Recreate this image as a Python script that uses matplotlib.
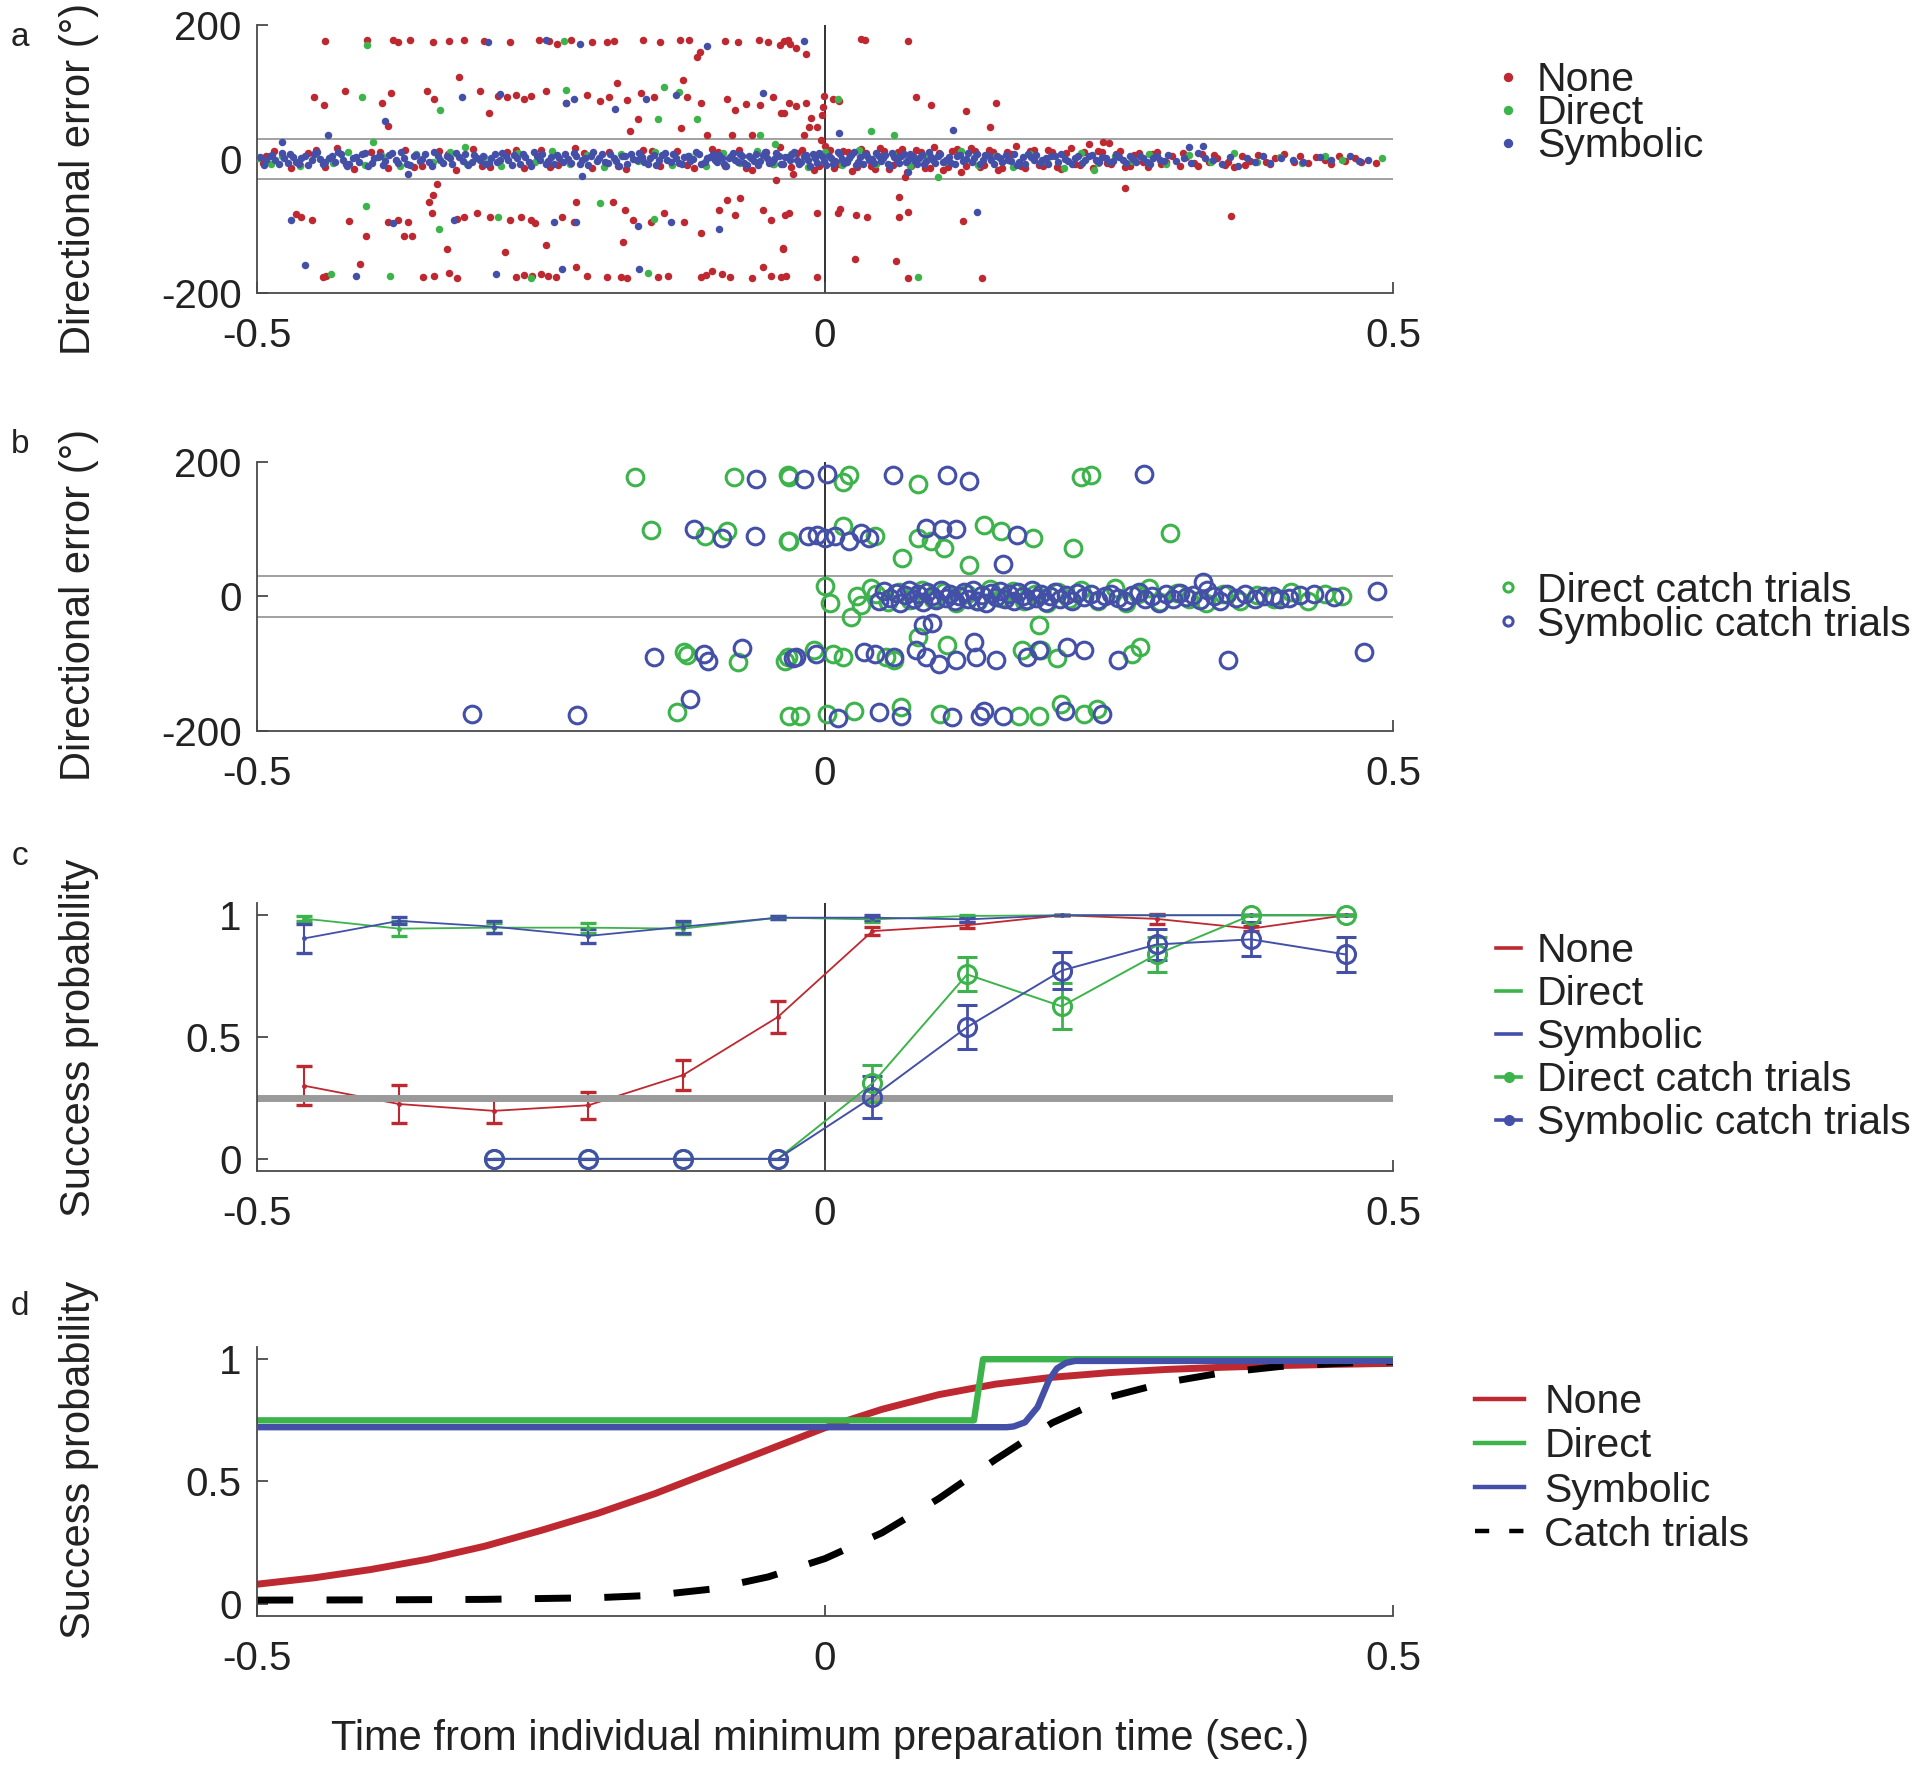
import matplotlib
matplotlib.use("Agg")
import matplotlib.pyplot as plt
from matplotlib.lines import Line2D

plt.rcParams['font.family'] = ['Liberation Sans', 'DejaVu Sans']

RED = '#BE2830'
GREEN = '#3CB44B'
BLUE = '#4450A8'
GRAY = '#9A9A9A'
AXC = '#4A4A4A'
TXT = '#222222'

# ---------------- panel a: directional error, all trials (x = time, y = error in deg)
none_band = [
    (-0.495, -6), (-0.485, 12), (-0.470, -14), (-0.455, 9), (-0.440, -12), (-0.430, 16), (-0.415, -15), (-0.400, 10),
    (-0.385, -13), (-0.370, 14), (-0.355, -10), (-0.340, 12), (-0.325, -16), (-0.310, 15), (-0.295, -12), (-0.280, 11),
    (-0.265, -14), (-0.250, 13), (-0.235, -9), (-0.220, 16), (-0.205, -13), (-0.190, 10), (-0.175, -15), (-0.160, 14),
    (-0.145, -11), (-0.130, 12), (-0.115, -14), (-0.100, 15), (-0.088, -10), (-0.076, 13), (-0.064, -16), (-0.052, 11),
    (-0.040, 18), (-0.030, -12), (-0.020, 14), (-0.010, -17), (0.000, 20), (0.008, -14), (0.016, 12), (0.024, -18),
    (0.032, 15), (0.040, -11), (0.048, 17), (0.056, -15), (0.064, 10), (0.072, -20), (0.080, 14), (0.088, -13),
    (0.096, 18), (0.104, -16), (0.112, 12), (0.120, -19), (0.128, 16), (0.136, -12), (0.144, 14), (0.152, -17),
    (0.160, 11), (0.168, 20), (0.176, -14), (0.184, 13), (0.192, -11), (0.200, 10), (0.208, -15), (0.216, 17),
    (0.224, -9), (0.232, 22), (0.240, 12), (0.248, -6), (0.256, 8), (0.264, -12), (0.272, 6), (0.280, -5),
    (0.288, 7), (0.296, -8), (0.305, 4), (0.312, -10), (0.318, 3), (0.325, -6), (0.332, 8), (0.338, -4),
    (0.345, 2), (0.352, -9), (0.360, -12), (0.367, 5), (0.374, -3), (0.381, 6), (0.388, -5), (0.396, 2),
    (0.404, 7), (0.413, -4), (0.425, -6), (0.432, 3), (0.440, -2), (0.452, 4), (0.458, -3), (0.466, 1),
    (-0.004, 28), (0.070, -27), (0.245, 25), (0.250, 24),
    (-0.492, 5), (-0.462, -9), (-0.448, 13), (-0.422, -8), (-0.392, 11), (-0.362, -12), (-0.332, 8), (-0.302, -10),
    (-0.272, 14), (-0.242, -12), (-0.212, 9), (-0.182, -11), (-0.152, 12), (-0.122, -9), (-0.094, 11), (-0.070, -13),
    (-0.046, -8), (-0.025, 9), (-0.005, -10), (0.004, 13), (0.012, -8), (0.020, 10), (0.028, -12), (0.036, 9),
    (0.044, -15), (0.052, 12), (0.060, -9), (0.068, 15), (0.076, -10), (0.084, 11), (0.092, -14), (0.100, 9),
    (0.108, -12), (0.116, 15), (0.124, -10), (0.132, 12), (0.140, -9), (0.148, 10), (0.156, -13), (0.164, 8),
    (0.172, -11), (0.180, 12), (0.188, -9), (0.196, 13), (0.204, -12), (0.212, 9), (0.220, -8), (0.228, 11),
    (0.236, -13), (0.244, 10), (0.252, -8), (0.260, 12), (0.268, -10), (0.276, 9), (0.284, -12), (0.292, 11),
    (0.300, -5), (0.315, 9), (0.328, -11), (0.342, 6), (0.355, -5), (0.370, -9), (0.392, -8), (0.418, 5),
    (0.445, -7), (0.472, -4), (0.485, -6),
]
none_out = [
    (-0.440, 176), (-0.403, 178), (-0.380, 177), (-0.376, 175), (-0.345, 174), (-0.331, 176), (-0.318, 178),
    (-0.277, 175), (-0.252, 177), (-0.243, 176), (-0.236, 172), (-0.224, 177), (-0.205, 175), (-0.192, 174),
    (-0.186, 176), (-0.128, 178), (-0.120, 177), (-0.110, 160), (-0.088, 176), (-0.077, 174), (-0.058, 177),
    (-0.050, 175), (-0.040, 170), (-0.033, 177), (-0.036, 176), (-0.031, 171), (-0.026, 165), (-0.017, 157),
    (0.032, 179), (0.035, 178), (0.073, 176), (-0.113, 152), (-0.365, 178), (-0.300, 176), (-0.160, 177),
    (-0.145, 175),
    (-0.450, 92), (-0.441, 80), (-0.423, 102), (-0.390, 83), (-0.382, 98), (-0.350, 102), (-0.344, 89),
    (-0.322, 122), (-0.304, 102), (-0.296, 68), (-0.288, 94), (-0.280, 92), (-0.272, 96), (-0.265, 90),
    (-0.259, 94), (-0.246, 102), (-0.228, 84), (-0.210, 95), (-0.198, 86), (-0.190, 92), (-0.183, 114),
    (-0.174, 88), (-0.162, 99), (-0.151, 93), (-0.125, 118), (-0.122, 92), (-0.109, 84), (-0.086, 89),
    (-0.079, 73), (-0.070, 82), (-0.057, 80), (-0.046, 93), (-0.039, 68), (-0.032, 84),
    (-0.385, 49), (-0.165, 60), (-0.172, 41), (-0.127, 46), (-0.104, 36), (-0.082, 36), (-0.064, 36),
    (-0.036, 68), (-0.026, 79), (-0.017, 83), (-0.012, 61), (-0.014, 48), (-0.007, 48), (-0.003, 66),
    (-0.002, 78), (-0.001, 94), (0.007, 89), (0.012, 86), (0.080, 92), (0.093, 81), (0.124, 71),
    (0.150, 83), (0.145, 47), (-0.019, 36),
    (-0.466, -82), (-0.461, -86), (-0.452, -91), (-0.419, -92), (-0.404, -115), (-0.385, -94), (-0.376, -91),
    (-0.367, -94), (-0.371, -115), (-0.364, -115), (-0.349, -64), (-0.345, -54), (-0.342, -37), (-0.346, -81),
    (-0.333, -134), (-0.324, -89), (-0.318, -86), (-0.306, -81), (-0.295, -86), (-0.282, -139), (-0.277, -91),
    (-0.268, -86), (-0.259, -91), (-0.255, -96), (-0.246, -129), (-0.232, -86), (-0.219, -64), (-0.221, -94),
    (-0.187, -64), (-0.176, -76), (-0.178, -124), (-0.169, -91), (-0.153, -94), (-0.142, -81), (-0.124, -94),
    (-0.109, -111), (-0.093, -76), (-0.086, -61), (-0.079, -84), (-0.075, -59), (-0.055, -76), (-0.048, -91),
    (-0.037, -134), (-0.032, -81), (-0.028, -22), (-0.043, -32),
    (-0.035, -84), (-0.007, -80), (0.011, -81), (0.013, -74), (0.027, -84), (0.037, -86), (0.065, -86),
    (0.073, -79), (0.065, -57), (0.121, -92), (0.264, -43), (0.357, -85), (-0.037, -133), (0.026, -149),
    (0.062, -152),
    (-0.442, -176), (-0.439, -175), (-0.409, -157), (-0.354, -176), (-0.344, -175), (-0.331, -170),
    (-0.324, -178), (-0.272, -176), (-0.265, -173), (-0.258, -175), (-0.250, -172), (-0.244, -174),
    (-0.237, -176), (-0.219, -161), (-0.210, -175), (-0.192, -176), (-0.180, -176), (-0.174, -178),
    (-0.147, -176), (-0.138, -175), (-0.109, -176), (-0.105, -173), (-0.100, -168), (-0.091, -172),
    (-0.084, -176), (-0.064, -178), (-0.055, -161), (-0.048, -175), (-0.039, -176), (-0.034, -175),
    (-0.007, -176), (0.073, -177), (0.138, -177),
]
direct_band = [
    (-0.499, 2), (-0.488, -7), (-0.478, 5), (-0.462, -10), (-0.448, 8), (-0.433, -6), (-0.420, 11), (-0.405, -9),
    (-0.390, 4), (-0.374, -11), (-0.360, 7), (-0.345, -4), (-0.330, 10), (-0.315, -8), (-0.300, 3), (-0.285, -10),
    (-0.270, 9), (-0.255, -5), (-0.240, 12), (-0.225, -7), (-0.210, 6), (-0.195, -12), (-0.180, 8), (-0.165, -3),
    (-0.150, 11), (-0.135, -9), (-0.120, 5), (-0.105, -11), (-0.090, 9), (-0.075, -6), (-0.060, 12), (-0.045, -8),
    (-0.030, 7), (-0.015, -12), (0.000, 10), (0.015, -9), (0.030, 13), (0.045, -7), (0.060, 8), (0.075, -11),
    (0.090, 6), (0.105, -5), (0.120, 12), (0.135, -9), (0.150, 4), (0.165, -12), (0.180, 7), (0.195, -4),
    (0.210, -13), (0.225, 9), (0.240, -6), (0.255, 5), (0.270, -3), (0.285, 8), (0.300, -7), (0.320, 6),
    (0.340, -5), (0.360, 9), (0.380, -4), (0.400, 3), (0.420, -6), (0.440, 5), (0.455, -2), (0.490, 2),
]
direct_out = [
    (-0.435, -172), (-0.383, -175), (-0.259, -178), (-0.156, -170), (0.082, -176), (-0.404, -70), (-0.340, -104),
    (-0.288, -86), (-0.198, -66), (-0.151, -89), (-0.408, 92), (-0.339, 73), (-0.228, 103), (-0.142, 107),
    (-0.129, 100), (-0.147, 60), (-0.113, 59), (-0.057, 36), (0.011, 89), (0.040, 42), (0.061, 36),
    (-0.403, 170), (-0.230, 176), (-0.398, 26), (-0.317, 18), (-0.044, 22), (0.099, -27), (0.237, -17),
]
symbolic_band = [
    (-0.497, 3), (-0.492, -2), (-0.487, 6), (-0.481, -7), (-0.476, 1), (-0.471, 8), (-0.466, -4), (-0.461, 2),
    (-0.455, -9), (-0.450, 7), (-0.445, 0), (-0.440, -5), (-0.434, 4), (-0.429, 10), (-0.424, -2), (-0.419, -7),
    (-0.413, 3), (-0.408, 7), (-0.402, -11), (-0.397, 1), (-0.392, 5), (-0.387, -3), (-0.381, 9), (-0.376, -6),
    (-0.371, 2), (-0.365, -9), (-0.360, 6), (-0.355, 0), (-0.349, -4), (-0.344, 11), (-0.339, -1), (-0.333, 4),
    (-0.328, -8), (-0.322, 3), (-0.317, 7), (-0.311, -5), (-0.306, 1),
    (-0.301, 4), (-0.296, -6), (-0.291, 8), (-0.286, -2), (-0.281, 5), (-0.276, -9), (-0.271, 1), (-0.266, 7),
    (-0.261, -4), (-0.256, 10), (-0.251, -1), (-0.246, -7), (-0.241, 3), (-0.236, 6), (-0.231, -5), (-0.226, 0),
    (-0.221, 9), (-0.216, -8), (-0.211, 2), (-0.206, 5), (-0.201, -3), (-0.196, 8), (-0.191, -6), (-0.186, 1),
    (-0.181, -10), (-0.176, 4), (-0.171, 7), (-0.166, -2), (-0.161, 3), (-0.156, -7), (-0.151, 6), (-0.146, -1),
    (-0.141, 9), (-0.136, -4), (-0.131, 2), (-0.126, -8), (-0.121, 5), (-0.116, 0), (-0.111, 7), (-0.106, -5),
    (-0.101, 3),
    (-0.097, -2), (-0.093, 6), (-0.089, -7), (-0.085, 1), (-0.081, 9), (-0.077, -4), (-0.073, 4), (-0.069, -9),
    (-0.065, 2), (-0.061, 7), (-0.057, -3), (-0.053, 10), (-0.049, -6), (-0.045, 0), (-0.041, 5), (-0.037, -8),
    (-0.033, 3), (-0.029, 8), (-0.025, -1), (-0.021, -5), (-0.017, 6), (-0.013, -10), (-0.009, 2), (-0.005, 9),
    (-0.001, -3), (0.003, 4), (0.007, -7), (0.011, 11), (0.015, 0), (0.019, -4), (0.023, 6), (0.027, -9),
    (0.031, 3), (0.035, 8), (0.039, -2), (0.043, -6), (0.047, 5), (0.051, 1), (0.055, -8), (0.059, 9),
    (0.063, -1), (0.067, 4), (0.071, -5), (0.075, 7), (0.079, -3), (0.083, 2), (0.087, -7), (0.091, 10),
    (0.095, -2), (0.099, 5),
    (0.104, -4), (0.109, 3), (0.114, -8), (0.119, 6), (0.124, 0), (0.129, -5), (0.134, 8), (0.139, -2),
    (0.144, 4), (0.149, -7), (0.154, 1), (0.159, 6), (0.164, -3), (0.169, -9), (0.174, 3), (0.179, 7),
    (0.184, -1), (0.189, -6), (0.194, 2), (0.199, 5), (0.205, -4), (0.211, 0), (0.217, -7), (0.223, 4),
    (0.229, -2), (0.235, 6), (0.241, -5), (0.247, 1), (0.253, -3), (0.259, 3), (0.265, -6), (0.271, 0),
    (0.277, 4), (0.283, -4), (0.289, 2), (0.295, -1),
    (0.302, 6), (0.309, -3), (0.316, 2), (0.322, -6), (0.328, 9), (0.334, 1), (0.341, -2), (0.349, -7),
    (0.356, 3), (0.363, -10), (0.371, 2), (0.378, -4), (0.385, 4), (0.392, -6), (0.401, 1), (0.412, -2),
    (0.421, -4), (0.436, 3), (0.445, -1), (0.462, 4), (0.470, -3), (0.478, -2),
    (-0.494, -9), (-0.489, 5), (-0.484, -1), (-0.478, 9), (-0.473, -6), (-0.468, 3), (-0.463, -8), (-0.458, 5),
    (-0.452, -2), (-0.447, 10), (-0.442, -7), (-0.437, 2), (-0.431, -5), (-0.426, 7), (-0.421, -10), (-0.416, 1),
    (-0.410, -4), (-0.405, 9), (-0.399, -6), (-0.394, 3), (-0.389, -9), (-0.384, 6), (-0.378, -1), (-0.373, 10),
    (-0.368, -7), (-0.362, 4), (-0.357, -3), (-0.352, 8), (-0.346, -10), (-0.341, 5), (-0.336, -6), (-0.330, 1),
    (-0.325, 9), (-0.319, -3), (-0.314, -9), (-0.309, 6), (-0.304, -2),
    (-0.299, -8), (-0.294, 2), (-0.289, -4), (-0.284, 9), (-0.279, -1), (-0.274, 6), (-0.269, -7), (-0.264, 3),
    (-0.259, -10), (-0.254, 5), (-0.249, 8), (-0.244, -3), (-0.239, -8), (-0.234, 1), (-0.229, 7), (-0.224, -6),
    (-0.219, 4), (-0.214, -1), (-0.209, -9), (-0.204, 10), (-0.199, 2), (-0.194, -5), (-0.189, 7), (-0.184, -3),
    (-0.179, 5), (-0.174, -8), (-0.169, 0), (-0.164, 9), (-0.159, -5), (-0.154, 2), (-0.149, -9), (-0.144, 6),
    (-0.139, -2), (-0.134, 8), (-0.129, -6), (-0.124, 3), (-0.119, -3), (-0.114, 10), (-0.109, -8), (-0.104, 1),
    (-0.099, 7), (-0.095, -5), (-0.091, 2), (-0.087, -10), (-0.083, 5), (-0.079, -1), (-0.075, 8), (-0.071, -6),
    (-0.067, 4), (-0.063, -3), (-0.059, -9), (-0.055, 6), (-0.051, 1), (-0.047, -4), (-0.043, 9), (-0.039, -7),
    (-0.035, 3), (-0.031, -2), (-0.027, 10), (-0.023, -8), (-0.019, 4), (-0.015, -1), (-0.011, 7), (-0.007, -6),
    (-0.003, 5), (0.001, -9), (0.005, 1), (0.009, -3), (0.013, 8), (0.017, -6), (0.021, 2), (0.025, 10),
    (0.029, -4), (0.033, -8), (0.037, 5), (0.041, 0), (0.045, 9), (0.049, -3), (0.053, 6), (0.057, -10),
    (0.061, 3), (0.065, -6), (0.069, 8), (0.073, -1), (0.077, 4), (0.081, -8), (0.085, 6), (0.089, -3),
    (0.093, 3), (0.097, -6),
    (0.101, 8), (0.106, -1), (0.111, -6), (0.116, 5), (0.121, -3), (0.126, 9), (0.131, 2), (0.136, -7),
    (0.141, 6), (0.146, -2), (0.151, 4), (0.156, -5), (0.161, -1), (0.166, 8), (0.171, -4), (0.176, -7),
    (0.181, 3), (0.186, 6), (0.191, -2), (0.196, -8), (0.202, 4), (0.208, 7), (0.214, -3), (0.220, 2),
    (0.226, -6), (0.232, 5), (0.238, -1), (0.244, 3), (0.250, -5), (0.256, 6), (0.262, -2), (0.268, 4),
    (0.274, -4), (0.280, 1), (0.286, -7), (0.292, 5), (0.298, -3),
]
symbolic_out = [
    (-0.297, 174), (-0.246, 177), (-0.216, 171), (-0.104, 168), (-0.320, 92), (-0.286, 97), (-0.228, 83),
    (-0.221, 90), (-0.185, 74), (-0.158, 89), (-0.131, 95), (-0.055, 98), (-0.387, 56), (-0.438, 36),
    (-0.478, 25), (-0.470, -91), (-0.380, -95), (-0.327, -91), (-0.239, -94), (-0.219, -94), (-0.165, -100),
    (-0.136, -94), (-0.093, -104), (-0.458, -159), (-0.413, -174), (-0.290, -172), (-0.232, -165),
    (-0.164, -164), (-0.367, -22), (-0.214, -26), (-0.019, 176), (0.113, 43), (0.012, 38), (0.134, -79),
    (0.073, -20), (0.320, 18), (0.333, 20),
]

# ---------------- panel b: directional error, catch trials
direct_catch_pts = [
    (-0.167, 177), (-0.080, 177), (-0.032, 177), (-0.153, 99), (-0.106, 90), (-0.086, 97), (-0.032, 82),
    (-0.124, -82), (-0.122, -87), (-0.077, -97), (-0.035, -96), (-0.130, -172), (-0.032, -177),
    (-0.033, 180), (0.021, 180), (0.016, 170), (0.082, 167), (0.225, 177), (0.234, 180),
    (-0.033, 82), (0.016, 105), (0.044, 90), (0.082, 87), (0.093, 82), (0.105, 72), (0.140, 107),
    (0.155, 97), (0.183, 87), (0.218, 72), (0.304, 95), (0.068, 57), (0.127, 47), (0.188, -42),
    (-0.033, -90), (-0.010, -80), (0.007, -85), (0.016, -90), (0.054, -90), (0.061, -95), (0.082, -60),
    (0.107, -72), (0.173, -80), (0.204, -92), (0.270, -85), (0.277, -75), (0.190, -80),
    (-0.022, -177), (0.002, -175), (0.025, -170), (0.067, -165), (0.101, -175), (0.171, -177),
    (0.188, -177), (0.208, -160), (0.228, -175), (0.239, -167),
    (0.000, 15), (0.004, -10), (0.023, -30), (0.028, 0), (0.032, -12), (0.040, 12), (0.045, 3), (0.055, -8),
    (0.065, 6), (0.075, -5), (0.085, 10), (0.095, -3), (0.105, 7), (0.115, -9), (0.125, 4), (0.135, -6),
    (0.145, 11), (0.155, -2), (0.165, 8), (0.175, -7), (0.185, 3), (0.195, -10), (0.205, 6), (0.215, -4),
    (0.225, 9), (0.240, -6), (0.255, 12), (0.265, -10), (0.275, 3), (0.285, 12), (0.295, -8), (0.310, 5),
    (0.320, -3), (0.335, -9), (0.350, 4), (0.365, -6), (0.380, 2), (0.395, -4), (0.410, 6), (0.425, -7),
    (0.440, 3), (0.455, 0),
]
symbolic_catch_pts = [
    (-0.061, 175), (-0.115, 101), (-0.091, 87), (-0.062, 90), (-0.151, -90), (-0.107, -85), (-0.103, -96),
    (-0.073, -76), (-0.028, -92), (-0.119, -152), (-0.311, -174), (-0.218, -176),
    (-0.019, 174), (0.002, 182), (0.060, 180), (0.107, 181), (0.127, 172), (0.281, 182),
    (-0.015, 90), (-0.007, 92), (0.000, 87), (0.009, 90), (0.021, 82), (0.032, 95), (0.039, 87),
    (0.089, 102), (0.103, 100), (0.115, 101), (0.169, 92), (0.157, 49), (0.086, -42), (0.094, -39),
    (-0.026, -90), (-0.008, -85), (0.034, -82), (0.044, -85), (0.061, -90), (0.080, -80), (0.089, -90),
    (0.100, -100), (0.115, -95), (0.131, -67), (0.133, -90), (0.150, -95), (0.178, -90), (0.188, -80),
    (0.213, -75), (0.228, -80), (0.258, -95), (0.355, -95), (0.474, -82),
    (0.011, -180), (0.047, -172), (0.067, -177), (0.112, -179), (0.136, -177), (0.140, -170), (0.157, -177),
    (0.211, -170), (0.244, -175),
    (0.047, -6), (0.052, 8), (0.057, -2), (0.062, 5), (0.066, -9), (0.070, 2), (0.074, 10), (0.078, -4),
    (0.082, 3), (0.086, -8), (0.090, 6), (0.094, 0), (0.098, -5), (0.102, 9), (0.106, -2), (0.110, 4),
    (0.114, -7), (0.118, 1), (0.122, 7), (0.126, -3), (0.130, 10), (0.134, -6), (0.138, 2), (0.142, -9),
    (0.146, 5), (0.150, -1), (0.154, 8), (0.158, -4), (0.162, 3), (0.166, -7), (0.170, 6), (0.174, 0),
    (0.178, -5), (0.182, 9), (0.186, -2), (0.190, 4), (0.194, -8), (0.198, 1), (0.202, 6), (0.207, -3),
    (0.212, 2), (0.217, -6), (0.222, 5), (0.228, -1), (0.234, 3), (0.240, -5), (0.246, 1), (0.252, 4),
    (0.258, -2), (0.264, -7), (0.270, 2), (0.276, 6), (0.282, -3), (0.288, 1), (0.294, -10), (0.300, 3),
    (0.306, -4), (0.312, 5), (0.318, -1), (0.324, 2), (0.330, -5), (0.336, 9), (0.342, 0), (0.348, -6),
    (0.354, 3), (0.362, -2), (0.370, 4), (0.378, -3), (0.386, 0), (0.394, 1), (0.400, -4), (0.408, -2),
    (0.418, 2), (0.430, 3), (0.448, -1), (0.486, 8), (0.333, 22),
]

# ---------------- panel c: binned success probability
bin_x = [-0.4583, -0.375, -0.2917, -0.2083, -0.125, -0.0417, 0.0417, 0.125, 0.2083, 0.2917, 0.375, 0.4583]
none_p = [0.30, 0.225, 0.197, 0.22, 0.344, 0.582, 0.935, 0.959, 1.0, 0.985, 0.945, 1.0]
none_err = [0.08, 0.078, 0.05, 0.055, 0.062, 0.067, 0.015, 0.012, 0.0, 0.02, 0.01, 0.0]
direct_p = [0.986, 0.945, 0.949, 0.949, 0.945, 0.99, 0.983, 0.997, 1.0, 1.0, 1.0, 1.0]
direct_err = [0.01, 0.03, 0.02, 0.02, 0.02, 0.005, 0.01, 0.005, 0.0, 0.0, 0.0, 0.0]
symbolic_p = [0.905, 0.977, 0.953, 0.915, 0.953, 0.99, 0.99, 0.983, 1.0, 1.0, 1.0, 1.0]
symbolic_err = [0.06, 0.015, 0.025, 0.03, 0.025, 0.005, 0.01, 0.01, 0.0, 0.0, 0.0, 0.0]
catch_x = [-0.2917, -0.2083, -0.125, -0.0417, 0.0417, 0.125, 0.2083, 0.2917, 0.375, 0.4583]
direct_catch_p = [0, 0, 0, 0, 0.31, 0.757, 0.626, 0.839, 1.0, 1.0]
direct_catch_err = [0, 0, 0, 0, 0.076, 0.07, 0.094, 0.07, 0, 0]
symbolic_catch_p = [0, 0, 0, 0, 0.254, 0.541, 0.773, 0.88, 0.901, 0.839]
symbolic_catch_err = [0, 0, 0, 0, 0.085, 0.09, 0.075, 0.065, 0.07, 0.07]
chance = 0.25

# ---------------- panel d: model curves
none_fit_x = [-0.5, -0.45, -0.4, -0.35, -0.3, -0.25, -0.2, -0.15, -0.1, -0.05, 0.0, 0.05, 0.1, 0.15, 0.2,
              0.25, 0.3, 0.35, 0.4, 0.45, 0.5]
none_fit_y = [0.08, 0.106, 0.14, 0.182, 0.235, 0.30, 0.37, 0.45, 0.54, 0.63, 0.72, 0.795, 0.855, 0.898,
              0.926, 0.945, 0.958, 0.967, 0.974, 0.979, 0.983]
direct_fit_x = [-0.5, 0.131, 0.139, 0.5]
direct_fit_y = [0.75, 0.75, 1.0, 1.0]
symbolic_fit_x = [-0.5, 0.160, 0.166, 0.176, 0.187, 0.197, 0.204, 0.212, 0.220, 0.5]
symbolic_fit_y = [0.722, 0.722, 0.725, 0.742, 0.804, 0.914, 0.962, 0.985, 0.993, 0.993]
catch_fit_x = [-0.5, -0.4, -0.3, -0.2, -0.15, -0.1, -0.05, 0.0, 0.05, 0.1, 0.15, 0.2, 0.25, 0.3, 0.35,
               0.4, 0.45, 0.5]
catch_fit_y = [0.015, 0.016, 0.018, 0.025, 0.035, 0.06, 0.11, 0.185, 0.29, 0.43, 0.59, 0.74, 0.845, 0.905,
               0.945, 0.97, 0.983, 0.99]


def xy(pts):
    return [p[0] for p in pts], [p[1] for p in pts]


def style(ax, ylim, yticks, ylabels):
    ax.set_xlim(-0.5, 0.5)
    ax.set_ylim(*ylim)
    for s in ('top', 'right'):
        ax.spines[s].set_visible(False)
    for s in ('left', 'bottom'):
        ax.spines[s].set_color(AXC)
        ax.spines[s].set_linewidth(1.3)
    ax.set_xticks([-0.5, 0, 0.5])
    ax.set_xticklabels(['-0.5', '0', '0.5'])
    ax.set_yticks(yticks)
    ax.set_yticklabels(ylabels)
    ax.tick_params(direction='in', length=8, width=1.3, color=AXC, labelsize=29, labelcolor=TXT)
    ax.tick_params(axis='x', pad=17)
    ax.tick_params(axis='y', pad=11)


fig = plt.figure(figsize=(19.2, 17.7), dpi=100)
L, W = 0.1339, 0.5917

# ---- a
ax = fig.add_axes([L, 0.8345, W, 0.1514])
style(ax, (-200, 200), [-200, 0, 200], ['-200', '0', '200'])
for yy in (30, -30):
    ax.axhline(yy, color=GRAY, lw=1.3, zorder=1)
ax.axvline(0, color='#222222', lw=1.3, zorder=1)
dot = dict(marker='o', ms=5.4, mec='none', ls='none', zorder=3)
x, y = xy(none_out + none_band)
ax.plot(x, y, color=RED, label='None', **dot)
x, y = xy(direct_out + direct_band)
ax.plot(x, y, color=GREEN, label='Direct', **dot)
x, y = xy(symbolic_out + symbolic_band)
ax.plot(x, y, color=BLUE, label='Symbolic', **dot)
h, l = ax.get_legend_handles_labels()
fig.legend(h, l, loc='upper left', bbox_to_anchor=(0.777, 0.9655), frameon=False, fontsize=29.5,
           handlelength=0.8, handletextpad=0.3, labelspacing=-0.12, borderpad=0, borderaxespad=0,
           markerscale=1.25, labelcolor=TXT)

# ---- b
ax = fig.add_axes([L, 0.587, W, 0.152])
style(ax, (-200, 200), [-200, 0, 200], ['-200', '0', '200'])
for yy in (30, -30):
    ax.axhline(yy, color=GRAY, lw=1.3, zorder=1)
ax.axvline(0, color='#222222', lw=1.3, zorder=1)
circ = dict(marker='o', ms=12, mfc='none', mew=2.2, ls='none', zorder=3)
x, y = xy(direct_catch_pts)
ax.plot(x, y, color=GREEN, mec=GREEN, label='Direct catch trials', **circ)
x, y = xy(symbolic_catch_pts)
ax.plot(x, y, color=BLUE, mec=BLUE, label='Symbolic catch trials', **circ)
h, l = ax.get_legend_handles_labels()
fig.legend(h, l, loc='upper left', bbox_to_anchor=(0.777, 0.677), frameon=False, fontsize=29.5,
           handlelength=0.8, handletextpad=0.3, labelspacing=-0.1, borderpad=0, borderaxespad=0,
           markerscale=0.55, labelcolor=TXT)

# ---- c
ax = fig.add_axes([L, 0.3384, W, 0.1514])
style(ax, (-0.05, 1.05), [0, 0.5, 1], ['0', '0.5', '1'])
ax.axvline(0, color='#222222', lw=1.3, zorder=1)
eb = dict(lw=1.3, marker='.', ms=5, capsize=6, capthick=2.4, elinewidth=1.5, zorder=2)
ax.errorbar(bin_x, none_p, yerr=none_err, color=RED, **eb)
ax.errorbar(bin_x, direct_p, yerr=direct_err, color=GREEN, **eb)
ax.errorbar(bin_x, symbolic_p, yerr=symbolic_err, color=BLUE, **eb)
ax.axhline(chance, color=GRAY, lw=5, zorder=2.5)
ebc = dict(lw=1.4, marker='o', ms=13, mfc='none', mew=2.2, capsize=7, capthick=2.6, elinewidth=2.0, zorder=3)
ax.errorbar(catch_x, direct_catch_p, yerr=direct_catch_err, color=GREEN, **ebc)
ax.errorbar(catch_x, symbolic_catch_p, yerr=symbolic_catch_err, color=BLUE, **ebc)
hc = [Line2D([], [], color=RED, lw=2.6), Line2D([], [], color=GREEN, lw=2.6), Line2D([], [], color=BLUE, lw=2.6),
      Line2D([], [], color=GREEN, lw=2.6, marker='o', ms=7), Line2D([], [], color=BLUE, lw=2.6, marker='o', ms=7)]
fig.legend(hc, ['None', 'Direct', 'Symbolic', 'Direct catch trials', 'Symbolic catch trials'],
           loc='upper left', bbox_to_anchor=(0.779, 0.4733), frameon=False, fontsize=29.5,
           handlelength=0.63, handletextpad=0.37, labelspacing=0.12, borderpad=0, borderaxespad=0,
           labelcolor=TXT)

# ---- d
ax = fig.add_axes([L, 0.087, W, 0.152])
style(ax, (-0.05, 1.05), [0, 0.5, 1], ['0', '0.5', '1'])
ax.plot(none_fit_x, none_fit_y, color=RED, lw=5, solid_capstyle='butt', zorder=2)
ax.plot(catch_fit_x, catch_fit_y, color='black', lw=5, dashes=(5.2, 4.8), zorder=2.2)
ax.plot(direct_fit_x, direct_fit_y, color=GREEN, lw=4.6, zorder=2.4)
ax.plot(symbolic_fit_x, symbolic_fit_y, color=BLUE, lw=4.6, zorder=2.6)
hd = [Line2D([], [], color=RED, lw=3.2), Line2D([], [], color=GREEN, lw=3.2), Line2D([], [], color=BLUE, lw=3.2),
      Line2D([], [], color='black', lw=3.2, dashes=(3.2, 4.5))]
fig.legend(hd, ['None', 'Direct', 'Symbolic', 'Catch trials'],
           loc='upper left', bbox_to_anchor=(0.768, 0.2185), frameon=False, fontsize=29.5,
           handlelength=1.2, handletextpad=0.5, labelspacing=0.15, borderpad=0, borderaxespad=0,
           labelcolor=TXT)

# ---- shared text
for ty, txt in [(0.899, 'Directional error (°)'), (0.658, 'Directional error (°)'),
                (0.4136, 'Success probability'), (0.175, 'Success probability')]:
    fig.text(0.041, ty, txt, rotation=90, ha='center', va='center', fontsize=30, color=TXT)
for ty, letter in [(0.979, 'a'), (0.749, 'b'), (0.516, 'c'), (0.262, 'd')]:
    fig.text(0.0104, ty, letter, ha='center', va='center', fontsize=24, color=TXT)
fig.text(0.427, 0.0175, 'Time from individual minimum preparation time (sec.)', ha='center', va='center',
         fontsize=30, color=TXT)

fig.savefig('out.png', dpi=100, facecolor='white')
